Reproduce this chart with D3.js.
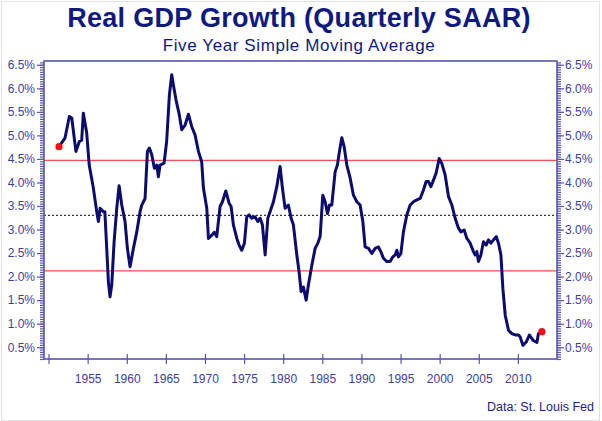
<!DOCTYPE html>
<html>
    <head>
        <meta charset="utf-8"/>
        <script src="https://cdnjs.cloudflare.com/ajax/libs/d3/7.8.5/d3.min.js"></script>
        <style>
            body { margin: 0; background: #fff; }
            svg text { font-family: "Liberation Sans", Arial, sans-serif; }
        </style>
    </head>
    <body>
        <script>
            // five year moving average of quarterly SAAR real GDP growth (%)
            const years = [
                1951.34, 1952.1, 1952.66, 1952.97, 1953.5, 1953.94, 1954.24, 1954.45, 1954.88, 1955.2,
                1955.73, 1956.16, 1956.37, 1956.59, 1957.0, 1957.2, 1957.44, 1957.65, 1957.86, 1958.08,
                1958.38, 1958.72, 1959.02, 1959.36, 1959.78, 1960.08, 1960.42, 1960.85, 1961.28, 1961.7,
                1961.92, 1962.34, 1962.64, 1962.89, 1963.2, 1963.53, 1963.84, 1964.04, 1964.26, 1964.77,
                1965.1, 1965.45, 1965.75, 1965.96, 1966.3, 1966.7, 1967.03, 1967.46, 1967.88, 1968.3,
                1968.73, 1969.16, 1969.58, 1969.8, 1970.23, 1970.44, 1970.87, 1971.2, 1971.5, 1971.93,
                1972.23, 1972.66, 1973.08, 1973.34, 1973.63, 1974.07, 1974.36, 1974.7, 1975.04, 1975.34,
                1975.64, 1975.98, 1976.4, 1976.75, 1977.05, 1977.34, 1977.69, 1978.03, 1978.32, 1978.75,
                1979.18, 1979.6, 1979.9, 1980.24, 1980.66, 1981.01, 1981.3, 1981.74, 1982.03, 1982.29,
                1982.58, 1982.93, 1983.22, 1983.66, 1984.08, 1984.4, 1984.72, 1985.06, 1985.36, 1985.65,
                1985.91, 1986.21, 1986.64, 1986.93, 1987.19, 1987.49, 1987.79, 1988.13, 1988.56, 1988.98,
                1989.41, 1989.83, 1990.18, 1990.47, 1990.9, 1991.33, 1991.75, 1992.17, 1992.48, 1992.81,
                1993.25, 1993.67, 1994.02, 1994.31, 1994.53, 1994.73, 1995.04, 1995.37, 1995.8, 1996.23,
                1996.65, 1997.08, 1997.51, 1997.93, 1998.27, 1998.57, 1998.88, 1999.21, 1999.55, 1999.94,
                2000.28, 2000.7, 2001.13, 2001.56, 2001.98, 2002.4, 2002.71, 2003.13, 2003.48, 2003.9,
                2004.32, 2004.54, 2004.76, 2004.96, 2005.27, 2005.6, 2005.95, 2006.24, 2006.55, 2006.88,
                2007.23, 2007.52, 2007.83, 2008.08, 2008.38, 2008.8, 2009.23, 2009.66, 2010.08, 2010.29,
                2010.64, 2011.06, 2011.48, 2011.92, 2012.43, 2012.63, 2013.07
            ];
            const growth = [
                4.76, 4.94, 5.40, 5.37, 4.66, 4.87, 4.90, 5.47, 5.05, 4.37,
                3.88, 3.38, 3.17, 3.45, 3.38, 3.38, 2.60, 1.89, 1.57, 1.82,
                2.74, 3.45, 3.93, 3.52, 3.17, 2.60, 2.21, 2.60, 2.95, 3.38,
                3.52, 3.66, 4.66, 4.73, 4.59, 4.30, 4.37, 4.12, 4.37, 4.41,
                4.87, 5.86, 6.29, 6.07, 5.75, 5.45, 5.12, 5.22, 5.45, 5.19,
                5.01, 4.66, 4.44, 3.88, 3.45, 2.81, 2.88, 2.94, 2.85, 3.49,
                3.59, 3.82, 3.56, 3.49, 3.10, 2.81, 2.67, 2.56, 2.71, 3.27,
                3.31, 3.24, 3.27, 3.17, 3.24, 3.10, 2.46, 3.24, 3.38, 3.59,
                3.91, 4.34, 3.88, 3.45, 3.52, 3.24, 3.10, 2.46, 2.10, 1.68,
                1.78, 1.50, 1.82, 2.24, 2.60, 2.70, 2.85, 3.73, 3.59, 3.34,
                3.52, 3.52, 4.23, 4.37, 4.66, 4.95, 4.76, 4.37, 4.09, 3.73,
                3.59, 3.52, 3.17, 2.63, 2.60, 2.49, 2.60, 2.63, 2.53, 2.39,
                2.32, 2.32, 2.42, 2.46, 2.56, 2.42, 2.49, 2.95, 3.31, 3.52,
                3.59, 3.63, 3.66, 3.84, 4.02, 4.02, 3.91, 4.05, 4.20, 4.51,
                4.40, 4.16, 3.70, 3.52, 3.24, 3.03, 2.95, 2.99, 2.81, 2.71,
                2.53, 2.46, 2.53, 2.32, 2.46, 2.74, 2.67, 2.78, 2.71, 2.78,
                2.85, 2.71, 2.46, 1.75, 1.18, 0.86, 0.79, 0.76, 0.76, 0.72,
                0.54, 0.61, 0.76, 0.65, 0.60, 0.79, 0.83
            ];
            // mean and +/- one standard deviation bands
            const meanLine = 3.30;
            const bandLines = [4.47, 2.12];

            const yTicks = [0.5, 1.0, 1.5, 2.0, 2.5, 3.0, 3.5, 4.0, 4.5, 5.0, 5.5, 6.0, 6.5];
            const xTicks = [1950, 1955, 1960, 1965, 1970, 1975, 1980, 1985, 1990, 1995, 2000, 2005, 2010];

            const width = 602, height = 421;
            const margin = {top: 61, right: 45, bottom: 62, left: 44};
            const axisColor = "#5656ac";
            const labelColor = "#3e3e9c";
            const navy = "#0c0c70";

            const data = years.map((d, i) => ({year: d, value: growth[i]}));

            const x = d3.scaleLinear()
                .domain([1949.42, 2015.0])
                .range([margin.left, width - margin.right]);
            const y = d3.scaleLinear()
                .domain([0.25, 6.58])
                .range([height - margin.bottom, margin.top]);

            const svg = d3.select("body").append("svg")
                .attr("width", width)
                .attr("height", height)
                .attr("viewBox", [0, 0, width, height]);

            svg.append("rect")
                .attr("x", 1.5).attr("y", 1.5)
                .attr("width", width - 4).attr("height", height - 2)
                .attr("fill", "#fff")
                .attr("stroke", "#e2e2e2");

            svg.append("text")
                .attr("x", 299).attr("y", 26.5)
                .attr("text-anchor", "middle")
                .attr("font-size", 27).attr("font-weight", "bold")
                .attr("letter-spacing", 0.3)
                .attr("fill", "#0f1a80")
                .text("Real GDP Growth (Quarterly SAAR)");
            svg.append("text")
                .attr("x", 299).attr("y", 51)
                .attr("text-anchor", "middle")
                .attr("font-size", 17)
                .attr("letter-spacing", 0.6)
                .attr("fill", "#0f1a80")
                .text("Five Year Simple Moving Average");

            // reference lines
            svg.append("g")
                .selectAll("line")
                .data(bandLines)
                .join("line")
                .attr("x1", margin.left).attr("x2", width - margin.right)
                .attr("y1", d => y(d)).attr("y2", d => y(d))
                .attr("stroke", "#ff4b4b").attr("stroke-width", 1.3);
            svg.append("line")
                .attr("x1", margin.left).attr("x2", width - margin.right)
                .attr("y1", y(meanLine)).attr("y2", y(meanLine))
                .attr("stroke", "#333").attr("stroke-width", 1.2)
                .attr("stroke-dasharray", "2,2");

            // frame
            svg.append("rect")
                .attr("x", margin.left).attr("y", margin.top)
                .attr("width", width - margin.left - margin.right)
                .attr("height", height - margin.top - margin.bottom)
                .attr("fill", "none")
                .attr("stroke", axisColor).attr("stroke-width", 1.6);

            const minor = d3.range(0.25, 6.58, 0.05);

            const styleAxis = g => g
                .call(g => g.select(".domain").remove())
                .call(g => g.selectAll(".tick line").attr("stroke", axisColor).attr("stroke-width", 1.2))
                .call(g => g.selectAll(".tick text").attr("fill", labelColor)
                    .attr("font-size", 12).attr("font-family", "Liberation Sans, Arial, sans-serif"));

            // left axis
            svg.append("g")
                .attr("transform", `translate(${margin.left},0)`)
                .call(d3.axisLeft(y).tickValues(minor).tickSize(4).tickFormat(""))
                .call(styleAxis);
            svg.append("g")
                .attr("transform", `translate(${margin.left},0)`)
                .call(d3.axisLeft(y).tickValues(yTicks).tickSize(7).tickPadding(2).tickFormat(d => d.toFixed(1) + "%"))
                .call(styleAxis);

            // right axis
            svg.append("g")
                .attr("transform", `translate(${width - margin.right},0)`)
                .call(d3.axisRight(y).tickValues(minor).tickSize(4).tickFormat(""))
                .call(styleAxis);
            svg.append("g")
                .attr("transform", `translate(${width - margin.right},0)`)
                .call(d3.axisRight(y).tickValues(yTicks).tickSize(7).tickPadding(1).tickFormat(d => d.toFixed(1) + "%"))
                .call(styleAxis);

            // bottom axis, ticks cross the frame line
            const xAxis = svg.append("g")
                .attr("transform", `translate(0,${height - margin.bottom})`)
                .call(d3.axisBottom(x).tickValues(xTicks).tickSize(5).tickPadding(10)
                    .tickFormat(d => d === 1950 ? "" : d))
                .call(styleAxis);
            xAxis.selectAll(".tick line").attr("y1", -5);

            // the series
            const line = d3.line()
                .x(d => x(d.year))
                .y(d => y(d.value));

            svg.append("path")
                .datum(data)
                .attr("fill", "none")
                .attr("stroke", navy)
                .attr("stroke-width", 3)
                .attr("stroke-linejoin", "round")
                .attr("d", line);

            svg.append("g")
                .selectAll("circle")
                .data([data[0], data[data.length - 1]])
                .join("circle")
                .attr("cx", d => x(d.year))
                .attr("cy", d => y(d.value))
                .attr("r", 3.6)
                .attr("fill", "#f01010");

            svg.append("text")
                .attr("x", 594).attr("y", 411)
                .attr("text-anchor", "end")
                .attr("font-size", 12.5)
                .attr("fill", "#1a2288")
                .text("Data: St. Louis Fed");
        </script>
    </body>
</html>
